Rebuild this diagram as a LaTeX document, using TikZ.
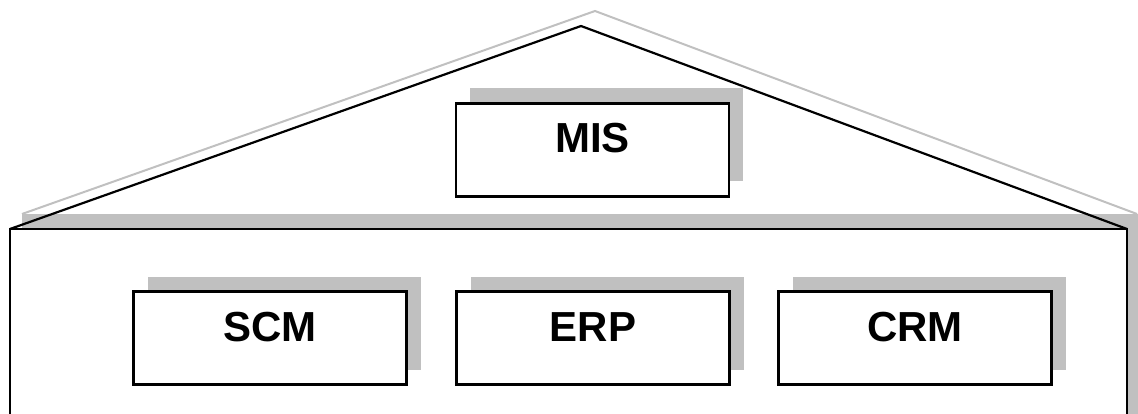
\documentclass[tikz,border=0pt]{standalone}
\usepackage{fontspec}
\setmainfont{Liberation Sans}
\usepackage{xcolor}
\usepackage{tikz}
\usetikzlibrary{shadows}

\definecolor{shadowgray}{RGB}{192,192,192}

\tikzset{
  sysbox/.style={draw=black, line width=2.2pt, fill=white, rectangle,
    minimum width=273pt, minimum height=93pt, inner sep=0pt,
    text height=30pt, text depth=24pt,
    font=\bfseries\fontsize{42}{42}\selectfont,
    general shadow={fill=shadowgray, shadow xshift=14pt, shadow yshift=15pt}}
}

\begin{document}
\begin{tikzpicture}[x=1pt, y=-1pt]
\useasboundingbox (0,0) rectangle (1138,414);

\coordinate (gl) at (22,214);
\coordinate (gt) at (595,11);
\coordinate (gr) at (1137,214);
\coordinate (hl) at (10,229);
\coordinate (ht) at (581,26);
\coordinate (hr) at (1127,229);

% shadow of the house
\fill[shadowgray] (gl) rectangle (1138,414);
\draw[shadowgray, line width=2pt] (gl) -- (gt) -- (gr);

% house
\fill[white] (hl) rectangle (1127,414);
\draw[line width=2.2pt] (10,414) -- (hl) -- (hr) -- (1127,414);
\draw[line width=2.2pt, line join=miter] (hl) -- (ht) -- (hr);

\node[sysbox] (mis) at (592.5,150) {MIS};
\node[sysbox] (scm) at (270,338) {SCM};
\node[sysbox] (erp) at (593,338) {ERP};
\node[sysbox] (crm) at (915,338) {CRM};
\end{tikzpicture}
\end{document}
